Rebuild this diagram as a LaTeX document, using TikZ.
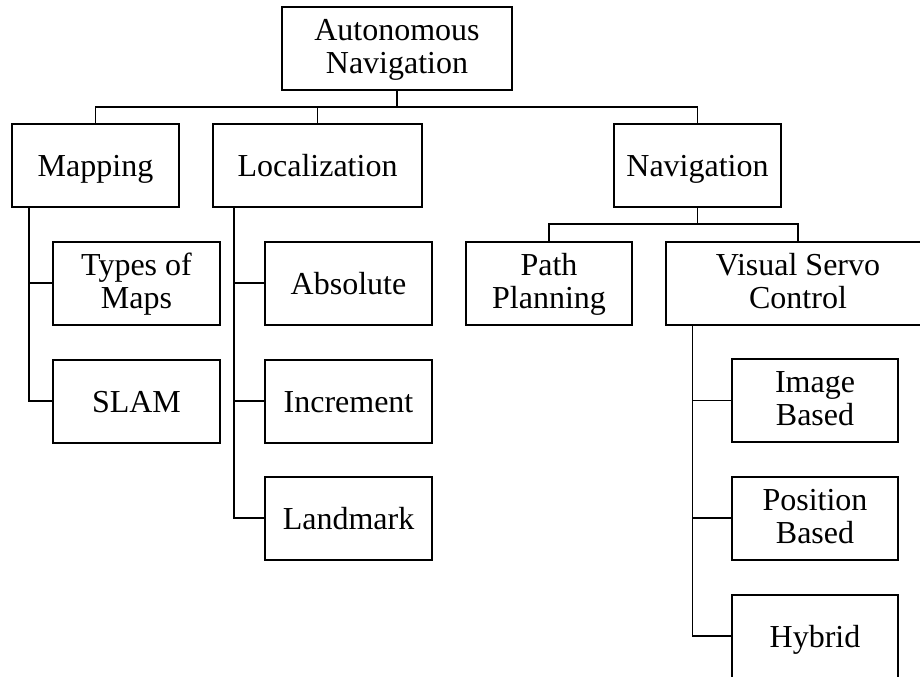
\documentclass[tikz,border=0pt]{standalone}
\usepackage{fontspec}
\setmainfont{Liberation Serif}
\begin{document}
\begin{tikzpicture}[x=0.75pt,y=-0.75pt,
  box/.style={draw=black,line width=1.5pt,rectangle,align=center,inner sep=0pt,
    text height=19.5pt,text depth=3pt,
    minimum height=62.25pt,font=\fontsize{24}{24.5}\selectfont},
  box2/.style={box,text height=42pt,text depth=4.5pt},
  conn/.style={draw=black,line width=0.8pt}]
\useasboundingbox (0,0) rectangle (920,676);
\clip (0,0) rectangle (920,676);
% nodes
\node[box2,minimum width=172.5pt] (top) at (397,48) {Autonomous\\Navigation};
\node[box,minimum width=125pt] (map) at (95.5,165) {Mapping};
\node[box,minimum width=156.75pt] (loc) at (317.5,165) {Localization};
\node[box,minimum width=125pt] (nav) at (697.5,165.5) {Navigation};
\node[box2,minimum width=124.5pt] (path) at (549,283) {Path\\Planning};
\node[box2,minimum width=198pt] (vsc) at (798,283) {Visual Servo\\Control};
\node[box2,minimum width=125pt] (types) at (136.5,283) {Types of\\Maps};
\node[box,minimum width=125pt] (slam) at (136.5,401) {SLAM};
\node[box,minimum width=125pt] (abs) at (348.5,283) {Absolute};
\node[box,minimum width=125pt] (inc) at (348.5,401) {Increment};
\node[box,minimum width=125pt] (land) at (348.5,518) {Landmark};
\node[box2,minimum width=124.5pt] (img) at (815,400.5) {Image\\Based};
\node[box2,minimum width=124.5pt] (pos) at (815,518) {Position\\Based};
\node[box,minimum width=124.5pt] (hyb) at (815,636) {Hybrid};
% coordinates
\coordinate (b1) at (397,107);
\coordinate (b2) at (697.5,224);
\coordinate (mx) at (29,0);
\coordinate (lx) at (234,0);
\coordinate (vx) at (692.5,0);
% connectors
\draw[conn] (top.south) -- (b1);
\draw[conn] (map.north) |- (b1) -| (nav.north);
\draw[conn] (loc.north) -- (loc.north |- b1);
\draw[conn] (nav.south) -- (b2);
\draw[conn] (path.north) |- (b2) -| (vsc.north);
\draw[conn] (map.south -| mx) |- (slam.west);
\draw[conn] (mx |- types.west) -- (types.west);
\draw[conn] (loc.south -| lx) |- (land.west);
\draw[conn] (lx |- abs.west) -- (abs.west);
\draw[conn] (lx |- inc.west) -- (inc.west);
\draw[conn] (vsc.south -| vx) |- (hyb.west);
\draw[conn] (vx |- img.west) -- (img.west);
\draw[conn] (vx |- pos.west) -- (pos.west);
\end{tikzpicture}
\end{document}
